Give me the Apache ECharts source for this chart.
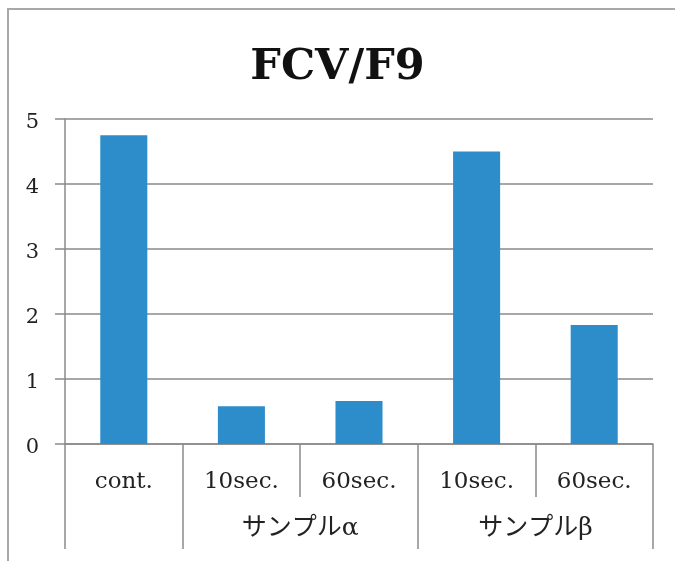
<!DOCTYPE html>
<html>
<head>
<meta charset="utf-8">
<script src="https://cdn.jsdelivr.net/npm/echarts@6/dist/echarts.min.js"></script>
<style>
  html, body { margin: 0; padding: 0; background: #fff; }
  #frame { position: absolute; left: 7px; top: 8px; width: 668px; height: 553px;
           border-left: 2px solid #a8a8a8; border-top: 2px solid #a8a8a8; }
  #chart { position: absolute; left: 0; top: 0; width: 675px; height: 561px; }
</style>
</head>
<body>
<div id="frame"></div>
<div id="chart"></div>
<script>
// Sub-category labels (one bar each) and their values
const categories = ['cont.', '10sec.', '60sec.', '10sec.', '60sec.'];
const values = [4.75, 0.58, 0.66, 4.50, 1.83];

// Group labels: name and the span of categories [start, end) they cover
const groupNames = ['サンプルα', 'サンプルβ'];
const groupSpans = [[1, 3], [3, 5]];

const yTicks = [0, 1, 2, 3, 4, 5];

const serif = '"DejaVu Serif", "Liberation Serif", "Noto Sans CJK JP", serif';

// group boundaries and centres in category units
const boundaries = [0];
groupSpans.forEach(s => { if (boundaries.indexOf(s[0]) < 0) boundaries.push(s[0]); boundaries.push(s[1]); });
const centres = groupSpans.map(s => (s[0] + s[1]) / 2);

const chart = echarts.init(document.getElementById('chart'), null, { renderer: 'canvas' });
chart.setOption({
  animation: false,
  backgroundColor: 'transparent',
  title: {
    text: 'FCV/F9',
    left: 'center',
    top: 41,
    textStyle: { fontFamily: serif, fontWeight: 'bold', fontSize: 43, color: '#111' }
  },
  grid: { left: 65, right: 22, top: 119, bottom: 117, containLabel: false },
  xAxis: [
    {
      type: 'category',
      data: categories,
      position: 'bottom',
      axisLine: { show: true, lineStyle: { color: '#8a8a8a', width: 1.5 } },
      axisTick: { show: true, alignWithLabel: false, length: 53, lineStyle: { color: '#8a8a8a', width: 1.5 } },
      axisLabel: { margin: 27, fontFamily: serif, fontSize: 23, color: '#222' },
      splitLine: { show: false }
    },
    {
      type: 'value',
      min: 0,
      max: categories.length,
      position: 'bottom',
      axisLine: { show: false },
      axisTick: { show: true, length: 105, customValues: boundaries, lineStyle: { color: '#8a8a8a', width: 1.5 } },
      axisLabel: {
        margin: 72,
        customValues: centres,
        fontFamily: serif,
        fontSize: 25,
        color: '#222',
        formatter: v => { const i = centres.indexOf(v); return i >= 0 ? groupNames[i] : ''; }
      },
      splitLine: { show: false }
    }
  ],
  yAxis: {
    type: 'value',
    min: 0,
    max: 5,
    interval: 1,
    axisLine: { show: true, lineStyle: { color: '#8a8a8a', width: 1.5 } },
    axisTick: { show: true, length: 10, customValues: yTicks, lineStyle: { color: '#8a8a8a', width: 1.5 } },
    axisLabel: { margin: 26, fontFamily: serif, fontSize: 21, color: '#222', verticalAlign: 'top', lineHeight: 8 },
    splitLine: { show: true, lineStyle: { color: '#8a8a8a', width: 1.5 } }
  },
  series: [{
    type: 'bar',
    xAxisIndex: 0,
    data: values,
    barWidth: '40%',
    itemStyle: { color: '#2d8dcb' }
  }]
});
</script>
</body>
</html>
